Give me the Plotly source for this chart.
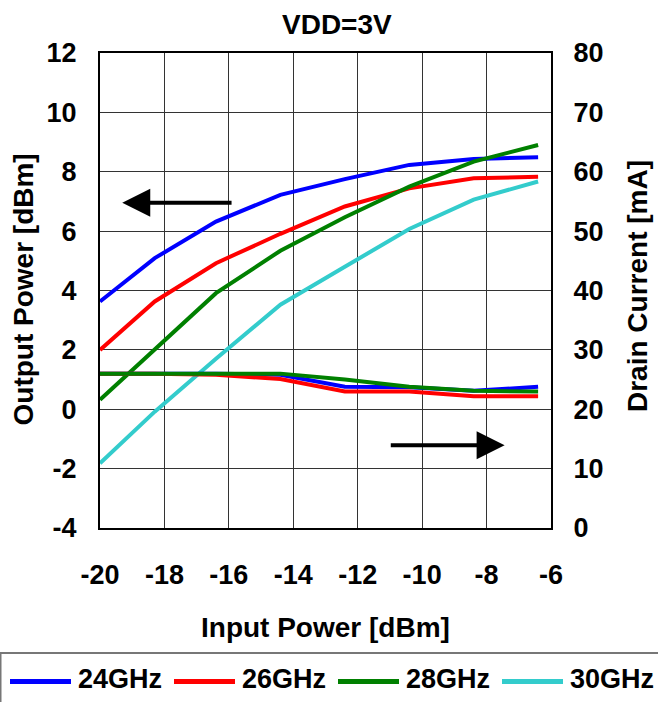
import plotly.graph_objects as go

input_power = [-20, -18.3, -16.4, -14.4, -12.4, -10.4, -8.4, -6.4]
series_names = ["24GHz", "26GHz", "28GHz", "30GHz"]
colors = ["#0000FF", "#FF0000", "#008000", "#33CCCC"]

pout_24 = [3.63, 5.09, 6.32, 7.22, 7.75, 8.23, 8.43, 8.49]
pout_26 = [2.0, 3.63, 4.92, 5.91, 6.83, 7.44, 7.78, 7.83]
pout_28 = [0.32, 2.02, 3.91, 5.34, 6.47, 7.5, 8.34, 8.9]
pout_30 = [-1.82, -0.08, 1.7, 3.52, 4.8, 6.07, 7.06, 7.67]

idd_24 = [26, 26, 26, 25.8, 23.8, 23.7, 23.1, 23.8]
idd_26 = [26, 26, 25.8, 25.1, 23.0, 23.0, 22.2, 22.2]
idd_28 = [26, 26, 26, 26, 25.0, 23.8, 23.1, 23.0]

pout = [pout_24, pout_26, pout_28, pout_30]
idd = [idd_24, idd_26, idd_28]

x_ticks = [-20, -18, -16, -14, -12, -10, -8, -6]
y_left_ticks = [-4, -2, 0, 2, 4, 6, 8, 10, 12]
y_right_ticks = [0, 10, 20, 30, 40, 50, 60, 70, 80]

title_text = "VDD=3V"
x_title = "Input Power [dBm]"
y_title = "Output Power [dBm]"
y2_title = "Drain Current [mA]"

FONT = "Liberation Sans, Arial"
W, H = 658, 702
ML, MR, MT, MB = 100, 107, 53, 174
PW, PH = W - ML - MR, H - MT - MB


def px_x(px):
    return (px - ML) / PW


def px_y(py):
    return (H - MB - py) / PH


def bold(v):
    return "<b>%s</b>" % v


fig = go.Figure()
for name, c, ys in zip(series_names, colors, pout):
    fig.add_trace(go.Scatter(x=input_power, y=ys, mode="lines", name=name,
                             line=dict(color=c, width=4), yaxis="y",
                             showlegend=False))
for name, c, ys in zip(series_names, colors, idd):
    fig.add_trace(go.Scatter(x=input_power, y=ys, mode="lines", name=name,
                             line=dict(color=c, width=4), yaxis="y2",
                             showlegend=False))

axis_common = dict(showline=True, linecolor="black", linewidth=2, mirror=True,
                   tickfont=dict(family=FONT, size=27, color="black"),
                   ticks="", zeroline=False, automargin=False)

annotations = [
    dict(text=bold(title_text), xref="paper", yref="paper", x=px_x(337),
         y=px_y(25), xanchor="center", yanchor="middle", showarrow=False,
         font=dict(family=FONT, size=28)),
    dict(text=bold(x_title), xref="paper", yref="paper", x=px_x(325),
         y=px_y(627), xanchor="center", yanchor="middle", showarrow=False,
         font=dict(family=FONT, size=28)),
    dict(text=bold(y_title), xref="paper", yref="paper", x=px_x(22.5),
         y=px_y(290), xanchor="center", yanchor="middle", showarrow=False,
         textangle=-90, font=dict(family=FONT, size=28)),
    dict(text=bold(y2_title), xref="paper", yref="paper", x=px_x(637),
         y=px_y(286), xanchor="center", yanchor="middle", showarrow=False,
         textangle=-90, font=dict(family=FONT, size=28)),
    dict(x=-19.31, y=6.96, ax=-15.87, ay=6.96, xref="x", yref="y",
         axref="x", ayref="y", showarrow=True, arrowhead=2,
         arrowsize=1.4, arrowwidth=4, arrowcolor="black", text=""),
    dict(x=-7.44, y=-1.21, ax=-11.02, ay=-1.21, xref="x", yref="y",
         axref="x", ayref="y", showarrow=True, arrowhead=2,
         arrowsize=1.4, arrowwidth=4, arrowcolor="black", text=""),
]

shapes = [
    dict(type="rect", xref="paper", yref="paper", x0=px_x(0.5), x1=px_x(662),
         y0=px_y(653), y1=px_y(706), line=dict(color="#777777", width=2),
         fillcolor="white", layer="above"),
]
for i, (name, c) in enumerate(zip(series_names, colors)):
    x0 = 10 + 164 * i
    shapes.append(dict(type="line", xref="paper", yref="paper",
                       x0=px_x(x0), x1=px_x(x0 + 61), y0=px_y(681.5),
                       y1=px_y(681.5), line=dict(color=c, width=5),
                       layer="above"))
    annotations.append(dict(text=bold(name), xref="paper", yref="paper",
                            x=px_x(x0 + 66), y=px_y(679), xanchor="left",
                            yanchor="middle", showarrow=False,
                            font=dict(family=FONT, size=27)))

fig.update_layout(
    width=W, height=H,
    margin=dict(l=ML, r=MR, t=MT, b=MB, autoexpand=False),
    paper_bgcolor="white", plot_bgcolor="white",
    font=dict(family=FONT, color="black"),
    showlegend=False,
    xaxis=dict(range=[-20, -6], tickvals=x_ticks,
               ticktext=[bold(v) for v in x_ticks], showgrid=True,
               gridcolor="#333333", gridwidth=1, ticklabelstandoff=22,
               **axis_common),
    yaxis=dict(range=[-4, 12], tickvals=y_left_ticks,
               ticktext=[bold(v) for v in y_left_ticks], showgrid=True,
               gridcolor="#333333", gridwidth=1, ticklabelstandoff=16,
               **axis_common),
    yaxis2=dict(range=[0, 80], tickvals=y_right_ticks,
                ticktext=[bold(v) for v in y_right_ticks], overlaying="y",
                side="right", showgrid=False, ticklabelstandoff=15,
                **axis_common),
    annotations=annotations,
    shapes=shapes,
)

fig.write_html("out.html", config={"displayModeBar": False},
               post_script="document.body.style.margin='0';"
                           "document.body.style.overflow='hidden';")
